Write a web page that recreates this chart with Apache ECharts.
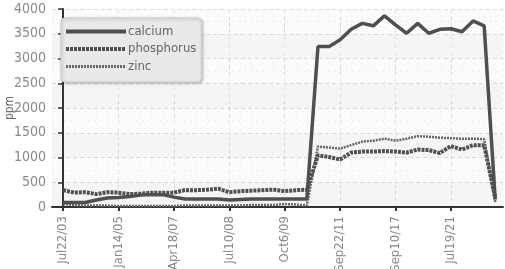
<!DOCTYPE html>
<html>
<head>
<meta charset="utf-8">
<script src="https://cdn.jsdelivr.net/npm/echarts@6/dist/echarts.min.js"></script>
<style>
  html, body { margin: 0; padding: 0; background: #fff; }
  #chart { width: 505px; height: 269px; }
</style>
</head>
<body>
<div id="chart"></div>
<script>
// tick labels sit on every 5th sample
const tickIndex = [0, 5, 10, 15, 20, 25, 30, 35]
const tickLabels = ['Jul22/03', 'Jan14/05', 'Apr18/07', 'Jul10/08', 'Oct6/09', 'Sep22/11', 'Sep10/17', 'Jul19/21']

const calcium = [90, 90, 90, 140, 180, 190, 210, 240, 250, 250,
  200, 160, 160, 160, 160, 140, 150, 160, 160, 160,
  160, 160, 160, 3240, 3240, 3380, 3590, 3710, 3660, 3860,
  3680, 3510, 3710, 3510, 3590, 3600, 3540, 3760, 3660, 150]
const phosphorus = [340, 290, 300, 260, 300, 290, 260, 270, 290, 290,
  290, 340, 340, 350, 370, 300, 320, 330, 340, 350,
  320, 340, 350, 1040, 1010, 960, 1100, 1120, 1120, 1130,
  1120, 1100, 1160, 1150, 1090, 1230, 1160, 1250, 1250, 180]
const zinc = [60, 40, 30, 30, 30, 20, 20, 20, 20, 20,
  20, 30, 30, 30, 30, 30, 30, 40, 40, 40,
  60, 50, 30, 1220, 1200, 1180, 1250, 1320, 1340, 1380,
  1340, 1380, 1430, 1420, 1400, 1390, 1380, 1380, 1370, 100]

const FONT = "'DejaVu Sans Condensed', 'Liberation Sans Narrow', sans-serif"

const toPoints = (arr) => arr.map((v, i) => [i, v])

const chart = echarts.init(document.getElementById('chart'))
chart.setOption({
  animation: false,
  backgroundColor: '#fff',
  grid: { left: 52, right: 2, top: 9, bottom: 62, outerBoundsMode: 'none', containLabel: false },
  legend: {
    orient: 'vertical',
    left: 61,
    top: 18,
    padding: [7, 5, 9, 3],
    itemWidth: 60,
    itemHeight: 11,
    itemGap: 4.5,
    itemStyle: { opacity: 0 },
    backgroundColor: '#e9e9e9',
    borderColor: '#cccccc',
    borderWidth: 1,
    borderRadius: 4,
    shadowColor: 'rgba(0,0,0,0.25)',
    shadowBlur: 3,
    shadowOffsetX: 1,
    shadowOffsetY: 1,
    textStyle: { color: '#666', fontFamily: FONT, fontSize: 13, padding: [0, 0, 0, -3] },
    data: [
      { name: 'calcium', lineStyle: { width: 4 } },
      { name: 'phosphorus', lineStyle: { width: 4 } },
      { name: 'zinc', lineStyle: { width: 3 } }
    ]
  },
  xAxis: [
    {
      type: 'value',
      min: -1,
      max: 39.7,
      axisLine: { show: true, onZero: false, lineStyle: { color: '#333', width: 2 } },
      axisTick: { show: true, customValues: tickIndex, length: 4, lineStyle: { color: '#333', width: 2 } },
      axisLabel: {
        customValues: tickIndex,
        rotate: 90,
        margin: 9,
        color: '#888',
        fontFamily: FONT,
        fontSize: 13,
        formatter: (v) => tickLabels[tickIndex.indexOf(v)]
      },
      splitLine: { show: true, lineStyle: { color: '#d8d8d8', type: [4, 3] } }
    },
    {
      type: 'value',
      min: -1,
      max: 39.7,
      interval: 1,
      position: 'bottom',
      axisLine: { show: false },
      axisTick: { show: false },
      axisLabel: { show: false },
      splitLine: { show: true, lineStyle: { color: '#efefef', type: [2, 4] } }
    }
  ],
  yAxis: {
    type: 'value',
    min: 0,
    max: 4000,
    interval: 500,
    name: 'ppm',
    nameLocation: 'middle',
    nameGap: 36,
    nameMoveOverlap: false,
    nameTextStyle: { color: '#666', fontFamily: FONT, fontSize: 12 },
    axisLine: { show: true, lineStyle: { color: '#333', width: 2 } },
    axisTick: { show: true, length: 5, lineStyle: { color: '#333', width: 1.5 } },
    axisLabel: { color: '#888', fontFamily: FONT, fontSize: 14, margin: 6, formatter: (v) => String(v) },
    splitLine: { show: true, lineStyle: { color: '#d8d8d8', type: [4, 3] } },
    minorTick: { show: false, splitNumber: 2 },
    minorSplitLine: { show: true, lineStyle: { color: '#efefef', type: [2, 4] } },
    splitArea: { show: true, areaStyle: { color: ['#f5f5f5', '#fbfbfb'] } }
  },
  series: [
    {
      name: 'calcium',
      type: 'line',
      symbol: 'none',
      z: 4,
      color: '#4f4f4f',
      lineStyle: { color: '#4f4f4f', width: 3.5 },
      data: toPoints(calcium)
    },
    {
      name: 'phosphorus',
      type: 'line',
      symbol: 'none',
      z: 3,
      color: '#505050',
      lineStyle: { color: '#505050', width: 4, type: [3, 1] },
      data: toPoints(phosphorus)
    },
    {
      name: 'zinc',
      type: 'line',
      symbol: 'none',
      z: 2,
      color: '#666',
      lineStyle: { color: '#666', width: 2.5, type: [2, 1] },
      data: toPoints(zinc)
    }
  ]
})
</script>
</body>
</html>
